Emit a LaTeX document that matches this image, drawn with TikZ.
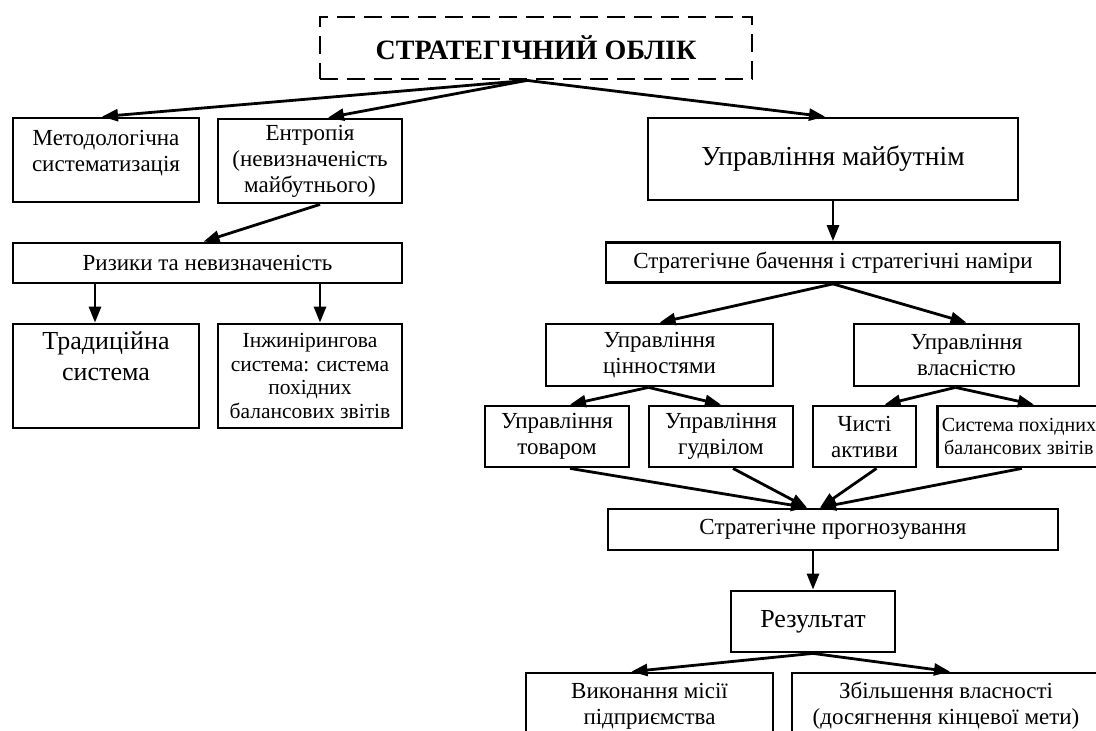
\documentclass[tikz,border=0pt]{standalone}
\usepackage{fontspec}
\setmainfont{Liberation Serif}
\usetikzlibrary{arrows.meta}

\begin{document}
\begin{tikzpicture}[x=1pt, y=-1pt, line width=2.8pt, >={Triangle[length=16pt, width=12pt]},
    box/.style = {draw, align=center, inner sep=2pt, font=\fontsize{23}{26}\selectfont},
    big/.style = {font=\fontsize{26}{31}\selectfont},
    small/.style = {font=\fontsize{21.5}{23.5}\selectfont}]
    \path[use as bounding box, clip] (0,0) rectangle (1096,731);
    \node[box, dash pattern=on 18pt off 9pt, minimum width=432, minimum height=62, font=\fontsize{28}{33}\selectfont\bfseries] (1) at (536,48) {СТРАТЕГІЧНИЙ ОБЛІК};
    \node[box, minimum width=186, minimum height=84] (2) at (106,160) {Методологічна\\систематизація\\[-16pt]\strut};
    \node[box, minimum width=184, minimum height=84] (3) at (310,161) {Ентропія\\(невизначеність\\майбутнього)};
    \node[box, font=\fontsize{27.5}{32}\selectfont, minimum width=370, minimum height=82] (4) at (833,159) {Управління майбутнім};
    \node[box, minimum width=389, minimum height=40] (5) at (207.5,263) {Ризики та невизначеність};
    \node[box, big, minimum width=186, minimum height=104] (6) at (106,376) {Традиційна\\система\\\strut};
    \node[box, small, minimum width=184, minimum height=104] (7) at (310,376) {Інжинірингова\\система: система\\похідних\\балансових звітів};
    \node[box, font=\fontsize{20}{23.5}\selectfont, minimum width=163, minimum height=61, anchor=west] (14) at (936,436.5) {Система похідних\\балансових звітів};
    \node[box, minimum width=454, minimum height=40] (8) at (833,262.5) {Стратегічне бачення і стратегічні наміри};
    \node[box, minimum width=227, minimum height=62] (9) at (659.5,355) {Управління\\цінностями};
    \node[box, minimum width=225, minimum height=62] (10) at (966.5,355) {Управління\\власністю};
    \node[box, minimum width=144, minimum height=61] (11) at (557,436.5) {Управління\\товаром};
    \node[box, minimum width=144, minimum height=61] (12) at (721,436.5) {Управління\\гудвілом};
    \node[box, minimum width=103, minimum height=61] (13) at (864.5,436.5) {Чисті\\активи};
    \node[box, minimum width=450, minimum height=41] (15) at (833,529.5) {Стратегічне прогнозування};
    \node[box, big, minimum width=164, minimum height=61] (16) at (813,621.5) {Результат};
    \node[box, minimum width=247, minimum height=66] (17) at (649.5,706) {Виконання місії\\підприємства};
    \node[box, minimum width=308, minimum height=66] (18) at (946,706) {Збільшення власності\\(досягнення кінцевої мети)};
    \draw[->] ([xshift=-9]1.south) -- ([xshift=-4]2.north);
    \draw[->] ([xshift=-9]1.south) -- ([xshift=18]3.north);
    \draw[->] ([xshift=-9]1.south) -- ([xshift=-8]4.north);
    \draw[->] ([xshift=10]3.south) -- ([xshift=-4]5.north);
    \draw[->] ([xshift=-11]6.north |- 5.south) -- ([xshift=-11]6.north);
    \draw[->] ([xshift=10]7.north |- 5.south) -- ([xshift=10]7.north);
    \draw[->] (4) -- (8);
    \draw[->] (8.south) -- (9.north);
    \draw[->] (8.south) -- (10.north);
    \draw[->] ([xshift=-11]9.south) -- ([xshift=13]11.north);
    \draw[->] ([xshift=-11]9.south) -- (12.north);
    \draw[->] ([xshift=-11]10.south) -- ([xshift=20]13.north);
    \draw[->] ([xshift=-11]10.south) -- ([xshift=15]14.north);
    \draw[->] ([xshift=13]11.south) -- ([xshift=-26]15.north);
    \draw[->] ([xshift=12]12.south) -- ([xshift=-26]15.north);
    \draw[->] ([xshift=12]13.south) -- ([xshift=-13]15.north);
    \draw[->] ([xshift=3]14.south) -- ([xshift=-13]15.north);
    \draw[->] (16.north |- 15.south) -- (16);
    \draw[->] (16.south) -- ([xshift=-18]17.north);
    \draw[->] (16.south) -- ([xshift=4]18.north);
\end{tikzpicture}
\end{document}
